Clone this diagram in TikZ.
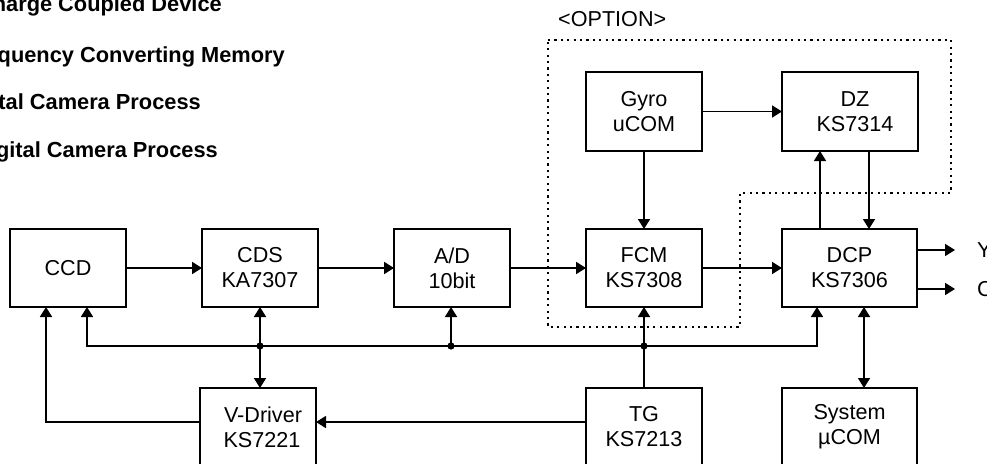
\documentclass[tikz,border=0pt]{standalone}
\usepackage{fontspec}
\setmainfont{Liberation Sans}
\usetikzlibrary{arrows.meta}
\tikzset{
  blk/.style={draw, line width=1.9pt, inner sep=0pt, outer sep=0pt, align=center,
    minimum width=116pt, minimum height=78pt, font=\fontsize{21.6}{25}\selectfont},
  conn/.style={line width=1.7pt},
  tip/.style={-{Triangle[length=10pt,width=12pt]}},
  tips/.style={{Triangle[length=10pt,width=12pt]}-{Triangle[length=10pt,width=12pt]}},
  lbl/.style={font=\fontsize{21.6}{25}\selectfont, inner sep=0pt},
  legend/.style={font=\fontsize{21.8}{25}\selectfont\bfseries, inner sep=0pt, anchor=base east},
  optbox/.style={line width=2.2pt, dash pattern=on 2.2pt off 4.2pt},
  junct/.style={fill=black}
}
\begin{document}
\begin{tikzpicture}[x=1pt,y=-1pt]
\useasboundingbox (0,0) rectangle (987,463);
\clip (0,0) rectangle (987,463);
% legend (cut at the left edge)
\node[legend] (l1) at (222,12) {harge Coupled Device};
\node[legend] (l2) at (285,62) {quency Converting Memory};
\node[legend] (l3) at (201,109) {tal Camera Process};
\node[legend] (l4) at (218,157) {gital Camera Process};
% option area
\node[lbl, anchor=base west] (opt) at (558,27) {<OPTION>};
\draw[optbox] (548,40) -- (951,40) -- (951,193) -- (740,193) -- (740,327) -- (548,327) -- cycle;
% blocks
\node[blk] (ccd) at (68,268) {CCD};
\node[blk] (cds) at (260,268) {CDS\\KA7307};
\node[blk] (ad) at (452,268) {A/D\\10bit};
\node[blk] (fcm) at (644,268) {FCM\\KS7308};
\node[blk, minimum width=135pt] (dcp) at (849.5,268) {DCP\\KS7306};
\node[blk, minimum height=79pt] (gyro) at (644,111.5) {Gyro\\uCOM};
\node[blk, minimum width=136pt, minimum height=79pt] (dz) at (850,111.5) {\hspace*{10pt}DZ\\\hspace*{10pt}KS7314};
\node[blk] (vdrv) at (258,427) {\hspace*{10pt}V-Driver\\\hspace*{8pt}KS7221};
\node[blk] (tg) at (644,427) {TG\\KS7213};
\node[blk, minimum width=135pt] (sys) at (849.5,427) {System\\µCOM};
% outputs
\coordinate (yend) at (955,250);
\coordinate (cend) at (955,289);
\node[lbl, anchor=west] (ylab) at (977,250) {Y};
\node[lbl, anchor=west] (clab) at (977,289) {C};
% signal chain
\draw[conn, tip] (ccd) -- (cds);
\draw[conn, tip] (cds) -- (ad);
\draw[conn, tip] (ad) -- (fcm);
\draw[conn, tip] (fcm) -- (dcp);
\draw[conn, tip] (gyro) -- (dz);
\draw[conn, tip] (gyro) -- (fcm);
\draw[conn, tip] (dcp.north -| 820,0) -- (dz.south -| 820,0);
\draw[conn, tip] (dz.south -| 869,0) -- (dcp.north -| 869,0);
\draw[conn, tip] (dcp.east |- yend) -- (yend);
\draw[conn, tip] (dcp.east |- cend) -- (cend);
\draw[conn, tips] (dcp.south -| 864,0) -- (sys.north -| 864,0);
% timing bus
\coordinate (b0) at (87,346);
\coordinate (j1) at (260,346);
\coordinate (j2) at (451,346);
\coordinate (j3) at (644,346);
\coordinate (b4) at (817,346);
\draw[conn, tips] (ccd.south -| b0) -- (b0) -- (b4) -- (dcp.south -| b4);
\draw[conn, tips] (cds.south -| j1) -- (vdrv.north -| j1);
\draw[conn, tip] (j2) -- (ad.south -| j2);
\draw[conn, tip] (tg.north) -- (fcm.south);
\fill[junct] (j1) circle (3.6pt);
\fill[junct] (j2) circle (3.6pt);
\fill[junct] (j3) circle (3.6pt);
% V-Driver drive
\coordinate (vd) at (46,422);
\draw[conn, tip] (tg.west |- 0,422) -- (vdrv.east |- 0,422);
\draw[conn, tip] (vdrv.west |- vd) -- (vd) -- (ccd.south -| vd);
\end{tikzpicture}
\end{document}
